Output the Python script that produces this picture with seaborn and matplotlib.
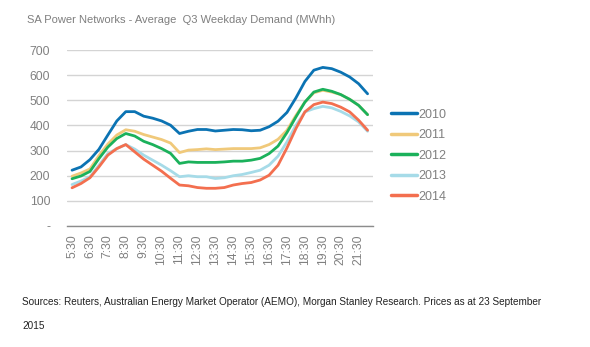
import matplotlib
matplotlib.use("Agg")
import matplotlib.pyplot as plt
import seaborn as sns
import pandas as pd
import numpy as np

times = ["5:30", "6:00", "6:30", "7:00", "7:30", "8:00", "8:30", "9:00", "9:30", "10:00",
         "10:30", "11:00", "11:30", "12:00", "12:30", "13:00", "13:30", "14:00", "14:30", "15:00",
         "15:30", "16:00", "16:30", "17:00", "17:30", "18:00", "18:30", "19:00", "19:30", "20:00",
         "20:30", "21:00", "21:30", "22:00"]

d2010 = [222, 235, 264, 305, 362, 418, 455, 455, 437, 429, 418, 401, 368, 377, 384, 384, 378, 381,
         384, 383, 379, 381, 395, 417, 452, 510, 575, 620, 631, 626, 612, 593, 566, 526]
d2011 = [198, 211, 227, 280, 326, 362, 383, 377, 364, 354, 344, 330, 292, 302, 304, 307, 304, 306,
         308, 308, 308, 311, 324, 345, 381, 440, 493, 530, 540, 533, 523, 504, 480, 443]
d2012 = [188, 199, 217, 268, 314, 348, 368, 358, 337, 324, 308, 289, 249, 255, 253, 253, 253, 255,
         258, 258, 262, 269, 288, 318, 372, 434, 493, 533, 544, 536, 523, 504, 480, 443]
d2013 = [165, 179, 196, 242, 288, 308, 324, 306, 282, 262, 242, 220, 196, 200, 196, 196, 189, 192,
         200, 205, 213, 222, 242, 278, 335, 401, 454, 467, 476, 470, 456, 438, 414, 377]
d2014 = [152, 169, 192, 235, 282, 308, 324, 295, 266, 242, 218, 190, 163, 160, 153, 150, 150, 153,
         163, 169, 173, 183, 202, 242, 311, 388, 454, 483, 493, 487, 473, 454, 421, 381]

years = ["2010", "2011", "2012", "2013", "2014"]
colors = ["#0b73b3", "#f0c97a", "#1bb15b", "#a6dbe8", "#f36f4f"]
yticks = [0, 100, 200, 300, 400, 500, 600, 700]
ytick_labels = ["-", "100", "200", "300", "400", "500", "600", "700"]

title = "SA Power Networks - Average  Q3 Weekday Demand (MWhh)"
source1 = "Sources: Reuters, Australian Energy Market Operator (AEMO), Morgan Stanley Research. Prices as at 23 September"
source2 = "2015"

rows = []
for yr, vals in zip(years, [d2010, d2011, d2012, d2013, d2014]):
    for i, v in enumerate(vals):
        rows.append({"idx": i, "time": times[i], "year": yr, "demand": v})
df = pd.DataFrame(rows)

sns.set_theme(style="white")
plt.rcParams['font.family'] = ['Liberation Sans', 'DejaVu Sans']

fig = plt.figure(figsize=(5.9, 3.47), dpi=100)
ax = fig.add_axes([0.1136, 0.3487, 0.519, 0.507])

sns.lineplot(data=df, x="idx", y="demand", hue="year", palette=dict(zip(years, colors)),
             linewidth=2.0, ax=ax, legend=True)

ax.set_ylim(0, 700)
ax.set_xlim(-0.56, len(times) - 1 + 0.63)
ax.set_yticks(yticks)
ax.set_yticklabels(ytick_labels)
tick_idx = list(range(0, len(times), 2))
ax.set_xticks(tick_idx)
ax.set_xticklabels([times[i] for i in tick_idx], rotation=90)
ax.yaxis.grid(True, color="#d4d4d4", linewidth=1.0)
ax.set_axisbelow(True)
for s in ["top", "right", "left"]:
    ax.spines[s].set_visible(False)
ax.spines["bottom"].set_color("#8c8c8c")
ax.spines["bottom"].set_linewidth(1.0)
ax.tick_params(axis="both", length=0, colors="#808080", labelsize=8.7, pad=6)
ax.tick_params(axis="y", pad=12)
ax.set_xlabel("")
ax.set_ylabel("")

handles, labels = ax.get_legend_handles_labels()
leg = ax.legend(handles, labels, loc="center left", bbox_to_anchor=(1.02, 0.40), frameon=False,
                fontsize=9, handlelength=2.1, handletextpad=0.15, labelspacing=0.68,
                labelcolor="#808080")
for h in leg.get_lines():
    h.set_linewidth(2.5)

fig.text(27 / 590, 1 - 20 / 347, title, fontsize=8, color="#7f7f7f", va="center", ha="left")
fig.text(22 / 590, 1 - 302 / 347, source1, fontsize=7.2, color="#222222", va="center", ha="left")
fig.text(22 / 590, 1 - 326 / 347, source2, fontsize=7.2, color="#222222", va="center", ha="left")

fig.savefig("out.png", dpi=100, facecolor="white")
